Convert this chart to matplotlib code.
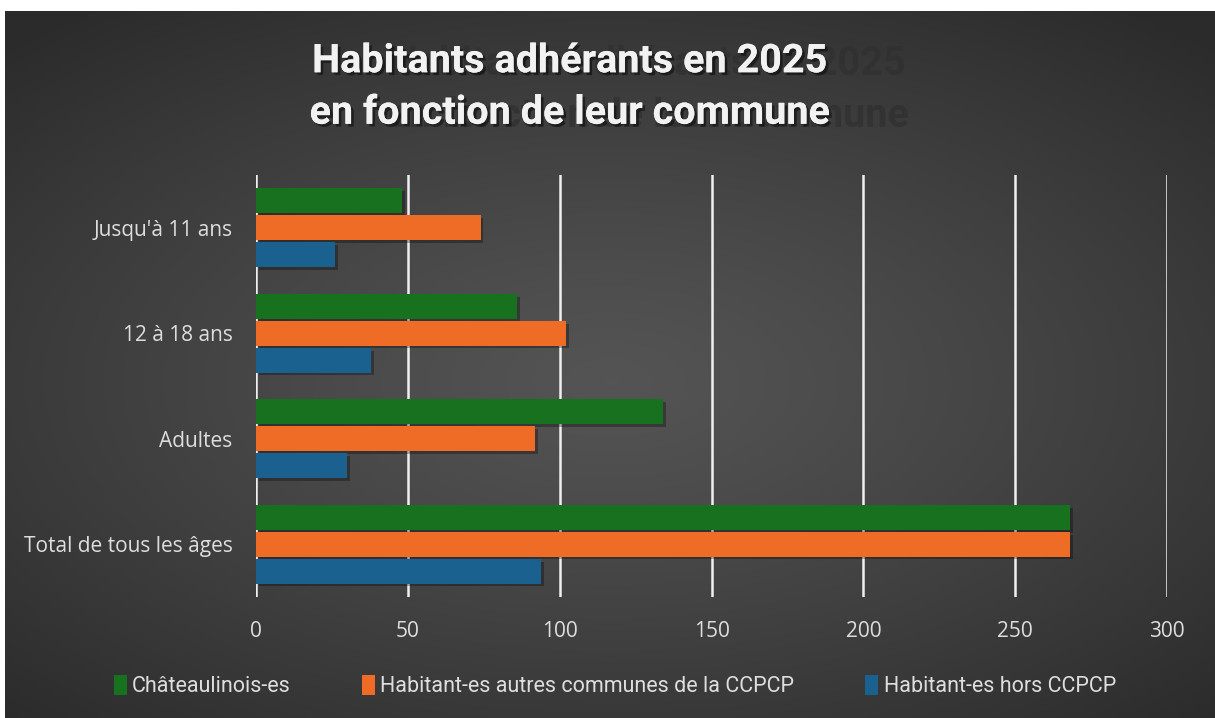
import matplotlib
matplotlib.use('Agg')
import matplotlib.pyplot as plt
import matplotlib.patheffects as pe
from matplotlib.patches import Patch
import numpy as np

# Data
categories = ["Jusqu'à 11 ans", "12 à 18 ans", "Adultes", "Total de tous les âges"]
chateaulinois = [48, 86, 134, 268]
autres_communes = [74, 102, 92, 268]
hors_ccpcp = [26, 38, 30, 94]
series_names = ['Châteaulinois-es', 'Habitant-es autres communes de la CCPCP', 'Habitant-es hors CCPCP']
series_colors = ['#17711f', '#ef6c27', '#1a6190']
x_ticks = [0, 50, 100, 150, 200, 250, 300]

narrow = ['Roboto', 'DejaVu Sans']
label_font = ['Open Sans', 'Noto Sans', 'DejaVu Sans']
txt_col = '#dedede'

W, H = 1215, 718
fig = plt.figure(figsize=(W / 100, H / 100), dpi=100, facecolor='white')

# dark radial gradient background (white strip on top and left like the screenshot)
bg = fig.add_axes([5 / W, 0, 1 - 5 / W, 1 - 11 / H])
gx, gy = np.meshgrid(np.linspace(-1, 1, 600), np.linspace(-1, 1, 400))
dist = np.sqrt((gx * 1.0) ** 2 + ((gy - 0.05) * 1.1) ** 2) / 1.45
dist = np.clip(dist, 0, 1)
lum = 0.33 - 0.16 * dist ** 1.2
img = np.dstack([lum, lum, lum])
bg.imshow(img, extent=[0, 1, 0, 1], aspect='auto', interpolation='bilinear')
bg.set_axis_off()

# title with the offset ghost text behind it
title = 'Habitants adhérants en 2025\nen fonction de leur commune'
fig.text(570 / W + 78 / W, 1 - 90 / H, title, ha='center', va='center', fontsize=28.5,
         fontweight='bold', family=narrow, color='#303030', alpha=0.75,
         linespacing=1.45)
fig.text(570 / W, 1 - 87 / H, title, ha='center', va='center', fontsize=28.5,
         fontweight='bold', family=narrow, color='#f2f2f2', linespacing=1.45,
         path_effects=[pe.withSimplePatchShadow(offset=(2, -2), shadow_rgbFace='black', alpha=0.45),
                       pe.Normal()])

ax = fig.add_axes([256 / W, 1 - 597 / H, (1167 - 256) / W, (597 - 175) / H])
ax.set_facecolor('none')

y = np.arange(len(categories))
h = 0.235
off = 0.255
shadow = [pe.withSimplePatchShadow(offset=(2, -2), shadow_rgbFace='black', alpha=0.3), pe.Normal()]
for i, vals in enumerate([chateaulinois, autres_communes, hors_ccpcp]):
    ax.barh(y + (i - 1) * off, vals, height=h, color=series_colors[i],
            path_effects=shadow, zorder=3)

ax.set_xlim(0, 300)
ax.set_ylim(3.5, -0.5)
ax.set_xticks(x_ticks)
ax.set_yticks(y)
ax.set_yticklabels(categories, family=label_font, fontsize=15, color=txt_col)
ax.set_xticklabels([str(t) for t in x_ticks], family=label_font, fontsize=15, color=txt_col)
ax.tick_params(axis='y', length=0, pad=17)
ax.tick_params(axis='x', length=0, pad=17)
ax.xaxis.grid(True, color='#f0f0f0', lw=1.8, zorder=1)
ax.set_axisbelow(True)
for s in ax.spines.values():
    s.set_visible(False)

handles = [Patch(facecolor=c) for c in series_colors]
leg = fig.legend(handles, series_names, loc='center', bbox_to_anchor=(0.506, 1 - 686 / H),
                 ncol=3, frameon=False, handlelength=0.6, handleheight=1.1,
                 handletextpad=0.25, columnspacing=3.3,
                 prop={'family': narrow, 'size': 15.5})
for t in leg.get_texts():
    t.set_color(txt_col)

fig.savefig('out.png', dpi=100, facecolor=fig.get_facecolor())
